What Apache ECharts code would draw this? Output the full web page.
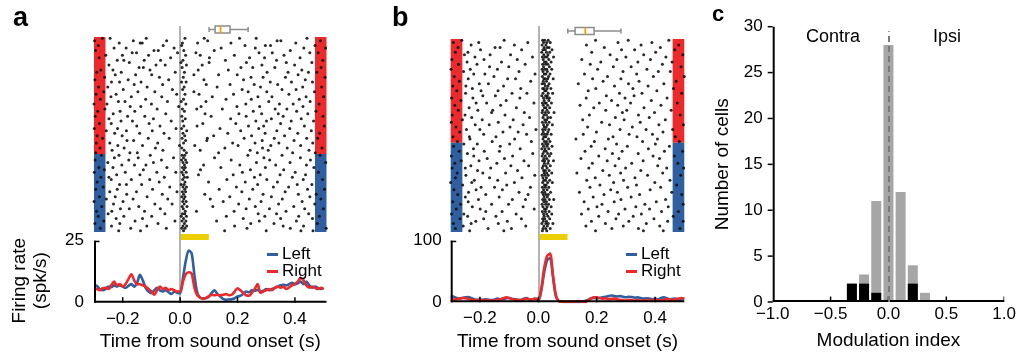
<!DOCTYPE html>
<html><head><meta charset="utf-8">
<script src="https://cdn.jsdelivr.net/npm/echarts@6/dist/echarts.min.js"></script>
<style>html,body{margin:0;padding:0;background:#fff}#chart{width:1019px;height:355px}</style>
</head><body><div id="chart"></div>
<script>
// ---------------- DATA ----------------
const timesMs = [-300,-290,-280,-270,-260,-250,-240,-230,-220,-210,-200,-190,-180,-170,-160,-150,-140,-130,-120,-110,-100,-90,-80,-70,-60,-50,-40,-30,-20,-10,0,10,20,30,40,50,60,70,80,90,100,110,120,130,140,150,160,170,180,190,200,210,220,230,240,250,260,270,280,290,300,310,320,330,340,350,360,370,380,390,400,410,420,430,440,450,460,470,480,490,500];

const psthA_left = [7,6.8,5.5,5,5.5,6.5,6.2,7,6.5,7, 6.5,6,6.8,7.5,6.5,8,11.2,9,6,4.5, 3.8,5,6,5,4.5,5,4.2,3.5,4.5,4, 3.8,10,17,21,20,11,4,2,1.8,1.8, 2.5,4,5,3.5,2.5,1.5,1.2,1.3,1.4,1.8, 2.5,2.8,3.5,4.5,4.2,5,4.8,5.2,4.5,4.8, 5.5,5,5.5,6,6.5,7,7.2,7,7.5,8, 7.5,7.8,8.5,7.5,8.5,7,6,6.5,6,5.5, 6];
const psthA_right = [5.7,5.5,5,5.8,6,5.5,7,8.5,7,7.5, 6.5,7.5,9.5,11.5,9,7.5,7.4,7,6.5,5.5, 4.5,3.2,5,6.5,5.5,6,5,5.5,5,4.5, 4.5,8.5,11.5,12.3,11.8,6,3,2,1.5,2, 2.5,3.2,3,3.2,3,3.2,3.5,3,3.2,4.5, 5.8,5,4,3,2.8,4,5.5,7.5,4,4.5, 5,5.5,5,6,6.5,6,6.5,5.5,6.2,7, 7.5,8.5,10,9,7,6,6.5,6,5.5,6, 5.5];
const psthB_left = [10,9,7,6,7,8,8.5,7,5,4, 4.5,4,5,4,3.5,4.5,6,5,4.5,6.5, 7,5.5,5,4,3.5,6,7,4.5,5,6, 3,18,48,68,72,42,10,2,1,0.5, 0.5,0.5,0.5,0.5,0.5,1,2,4,6,7, 6.5,7,8,9,10,11,10,9.5,10,9, 8,9,8.5,7.5,8,7,6,6.5,6,5, 5.5,5,7,8,6.5,5,5.5,6,4,5, 6];
const psthB_right = [5,4.5,5,6,7,6.5,5.5,4,3.5,3.5, 4,3.5,3,3.5,2.5,3,4,5,6.5,8, 7,5,4,3.5,3.5,4.5,6,4.5,5,5.5, 3.5,22,55,75,79,45,12,2,1,1, 1,1,1,1.5,2,1,0.5,3,6,8, 8,7,6,6.5,5,5.5,6,5,4,3.5, 3,4,3.5,3,3.5,3,3,3.5,3,3.5, 4,3.5,3,4,5,4.5,4,4.5,6,7, 6];

// spike times (ms) per trial; first trials = Right (red), rest = Left (blue)
const rasterA = [
[-271,-244,-118,17,84,207,265,442],[-298,-163,-47,96,338,351,489],[-212,-139,-132,8,61,177,403],[-285,-59,5,226,297,315,470],
[-230,-188,-21,143,262,431,507],[-295,-91,-76,13,119,384],[-167,-152,-9,55,275,321,452,481],[-259,-201,-110,19,70,189,362],
[-282,-33,102,242,294,418],[-219,-196,-125,-68,10,158,336,497],[-301,-177,3,101,231,370,459],[-248,-84,-52,22,77,285,399],
[-143,-128,7,212,253,330,491],[-276,-234,-105,63,168,424],[-290,-205,-17,15,303,376,447,476],[-226,-155,-99,48,134,199,411],
[-263,-72,11,247,289,367,505],[-297,-181,-40,83,221,436],[-239,-211,-136,5,21,314,388,461],[-160,-61,91,174,258,340],
[-284,-252,-115,14,129,280,427,493],[-198,-27,9,216,355,404],[-266,-147,-88,48,237,302,468],[-293,-223,-12,17,66,186,379],
[-241,-170,-64,112,271,320,439,500],[-278,-120,12,160,248,415],[-215,-192,-44,4,90,309,453],[-300,-255,-100,20,229,346,394,484],
[-174,-137,-5,73,198,277,428],[-262,-80,8,58,147,331,372],[-287,-209,-158,15,255,406,473],[-233,-50,87,205,284,342,445],
[-296,-183,-123,6,108,230,359,498],[-248,-93,18,176,318,422],[-206,-166,-31,9,264,301,387,465],[-281,-240,-108,79,194,350],
[-151,-70,13,59,238,291,433,502],[-299,-218,-14,5,139,274,382],[-257,-187,-97,23,211,337,457],[-228,-141,-56,10,166,296,410,486],
[-289,-202,16,117,249,364],[-270,-111,-38,7,95,223,328,441,479],[-185,-162,19,93,286,397],[-292,-245,-78,12,183,261,344,462],
[-217,-131,-2,51,202,316,420],[-279,-195,-86,6,156,287,373,494],[-237,-60,14,70,244,307,449],[-294,-175,-149,22,134,269,392,471],
[-274,-213,-104,7,16,236,355,488],[-229,-146,-23,12,120,292,419],[-296,-179,-65,5,19,178,312,454],[-252,-93,10,23,266,383,507],
[-203,-159,-119,15,82,208,333,440],[-283,-234,-46,8,18,142,297,466],[-264,-128,13,71,245,361],[-299,-191,-81,-15,6,21,217,401,482],
[-221,-140,11,64,185,279,348,437],[-276,-248,-55,15,25,259,391],[-240,-170,-106,9,163,302,429,496],[-289,-73,17,99,227,339],
[-211,-187,-134,4,14,270,408,459],[-268,-36,10,22,196,325,378],[-294,-219,-96,16,136,253,444,503],[-245,-152,-11,8,19,215,366],
[-186,-62,12,86,289,412,474],[-281,-226,-115,6,17,173,318,452],[-257,-164,-43,13,105,241,356,490],[-300,-199,9,21,150,282,425],
[-232,-88,-28,14,204,343,469],[-273,-144,7,24,114,262,396],[-208,-177,-69,11,230,311,434,499],[-291,-238,-124,18,57,188,369],
[-251,-53,8,16,272,336,448],[-285,-196,-99,4,22,161,295,413,485],[-223,-131,12,220,350,461],[-266,-157,-18,7,20,127,276,405],
[-297,-210,-77,15,246,327,478],[-239,-116,10,23,190,359,430],[-278,-172,-48,6,17,233,384,509],[-214,-138,12,155,300,421,463]
];
const rasterA_nRight = 48;

const rasterB = [
[-262,-117,15,22,34,196,308,447],[-291,-204,-36,18,29,41,273,389],[-230,-82,13,26,165,352,481],[-275,-148,-131,20,31,37,226,418],
[-198,-57,16,24,47,285,330,467],[-284,-241,12,28,39,183,402],[-253,-165,-95,19,33,246,361,495],[-217,-20,14,23,30,52,300,437],
[-296,-186,-72,17,36,149,269,384],[-244,-126,21,27,44,214,341,458],[-273,-210,-45,15,25,33,178,425],[-167,-101,18,38,257,318,489],
[-299,-233,-140,13,22,29,46,203,372],[-256,-66,16,31,290,411,452],[-221,-183,-11,20,26,40,158,337],[-288,-152,14,35,237,394,500],
[-240,-105,-78,19,24,32,51,186,283],[-270,-26,17,28,222,345,472],[-202,-171,13,21,37,137,309,430],[-293,-248,-119,24,33,261,376],
[-226,-60,15,19,30,43,197,324,463],[-279,-196,-138,22,27,171,406],[-249,-90,-39,16,34,49,278,355,491],[-190,-147,12,25,31,233,328],
[-297,-224,-63,18,29,38,164,297,441],[-265,-110,20,36,251,387],[-213,-177,-15,14,23,27,45,209,316,476],[-286,-129,17,32,143,272,420],
[-237,-75,21,26,39,190,362],[-274,-207,-156,15,30,231,303,455],[-160,-48,13,24,35,54,288,398],[-295,-251,-114,19,28,175,343,486],
[-228,-30,16,33,42,264,380],[-260,-192,-86,22,29,152,294,435],[-298,-137,14,25,37,217,349],[-216,-168,-52,18,31,48,244,413,497],
[-282,-97,20,27,169,322],[-246,-200,-8,15,24,36,280,369,460],[-269,-121,-69,17,33,199,427],[-187,-40,13,22,30,44,154,311,391],
[-292,-236,-145,19,26,256,338,469],[-234,-81,16,35,129,240,408],[-277,-158,-24,21,28,40,192,357,483],
[-255,-209,-98,14,25,33,268,401],[-290,-130,18,30,47,181,305,449],[-222,-62,12,23,36,229,377],[-271,-185,-133,20,27,160,287,432,494],
[-243,-19,16,32,43,254,342],[-298,-221,-88,13,24,38,207,393,466],[-175,-116,19,29,146,276,415],[-264,-203,-49,15,22,35,52,236,359],
[-286,-142,21,33,185,320,478],[-231,-94,-33,17,26,41,263,409],[-295,-250,-163,14,30,173,299,440,498],[-208,-71,18,24,37,221,351],
[-278,-190,-112,20,29,46,132,282,426],[-248,-12,13,23,34,243,374,488],[-284,-167,-56,16,28,195,331],[-219,-139,19,25,39,166,292,451],
[-300,-228,-82,15,32,48,258,399],[-259,-108,21,27,211,336,474],[-196,-150,-27,14,24,36,177,306,419],[-289,-213,-123,18,30,248,383],
[-239,-66,13,22,42,141,271,457],[-276,-180,-35,17,26,34,225,347,491],[-250,-134,20,31,188,318],[-205,-89,-44,15,23,38,53,283,436],
[-293,-240,19,28,157,260,404],[-266,-160,-102,13,25,35,218,365,496],[-226,-52,16,30,44,201,334,445],[-281,-199,-14,21,27,171,297,381],
[-180,-124,14,24,37,239,422,480],[-297,-255,-76,18,29,46,148,275,353],[-242,-145,20,33,207,325,462],[-268,-187,-58,15,22,39,266,396],
[-214,-106,17,28,182,310,443,496],[-291,-230,-137,12,26,34,50,230,370],[-257,-43,19,31,163,291,416],[-284,-172,-92,16,25,41,252,343,485],
[-235,-118,14,29,196,360,428]
];
const rasterB_nRight = 43;

// first-spike-latency box plots (s): [whiskerLow, Q1, median, Q3, whiskerHigh]
const boxA = [0.101, 0.122, 0.141, 0.174, 0.237];
const boxB = [0.101, 0.126, 0.161, 0.191, 0.283];

// Panel c histogram
const modBins = [-0.3158, -0.2105, -0.1053, 0, 0.1053, 0.2105, 0.3158];
const allCells = [2, 3, 11, 28, 12, 4, 1];
const sigCells = [2, 2, 1, 0, 0, 2, 0];

// tick values
const psthTicks = [-0.2, 0, 0.2, 0.4];
const psthA_yTicks = [0, 25];
const psthB_yTicks = [0, 100];
const modTicks = [-1, -0.5, 0, 0.5, 1];
const cellTicks = [0, 5, 10, 15, 20, 25, 30];

// ---------------- STYLE / LAYOUT ----------------
const FONT = 'Liberation Sans, Arial, Helvetica, sans-serif';
const RED = '#ec2a2b', BLUE = '#2f5fa0', YELLOW = '#ebcf00', VLINE = '#b3b3b3';
const TICK_FS = 17, NAME_FS = 19;

const G = {
  rA: {left: 94, width: 232.5}, pA: {left: 94, top: 240.7, width: 232.5, height: 62},
  rB: {left: 450.7, width: 233.6}, pB: {left: 450.7, top: 240.7, width: 233.6, height: 61.6},
  c: {left: 772.7, top: 26.7, width: 233, height: 276}
};

function rasterLayout(top, dotTop, dotBot, bottom, n, boxCenter, yellowTop, yellowBot){
  const px = (dotBot - dotTop) / n;
  return {
    top, height: bottom - top,
    yMin: -(dotTop - top) / px,
    yMax: n + (bottom - dotBot) / px,
    boxY: -(dotTop - top) / px + (boxCenter - top) / px,
    yel0: n + (yellowTop - dotBot) / px,
    yel1: n + (yellowBot - dotBot) / px
  };
}
const LA = rasterLayout(26, 37, 232, 241, rasterA.length, 29.5, 234, 240);
const LB = rasterLayout(26, 39, 232, 241, rasterB.length, 31, 234, 240);

function pts(trials){
  const out = [];
  trials.forEach((tr, i) => tr.forEach(ms => out.push([ms / 1000, i + 0.5])));
  return out;
}
function curve(vals){ return vals.map((v, i) => [timesMs[i] / 1000, v]); }
const fmt = v => (v < 0 ? '\u2212' : '') + Math.abs(v).toFixed(1);

function boxRender(params, api){
  const yU = api.value(0);
  const p = v => api.coord([v, yU]);
  const a = p(api.value(1)), b = p(api.value(2)), c = p(api.value(3)), d = p(api.value(4)), e = p(api.value(5));
  const y = a[1], h = 3.5;
  const st = {stroke: '#8c8c8c', lineWidth: 1.5, fill: null};
  return {type: 'group', children: [
    {type: 'line', shape: {x1: a[0], y1: y, x2: b[0], y2: y}, style: st},
    {type: 'line', shape: {x1: d[0], y1: y, x2: e[0], y2: y}, style: st},
    {type: 'line', shape: {x1: a[0], y1: y - 2.5, x2: a[0], y2: y + 2.5}, style: st},
    {type: 'line', shape: {x1: e[0], y1: y - 2.5, x2: e[0], y2: y + 2.5}, style: st},
    {type: 'rect', shape: {x: b[0], y: y - h, width: d[0] - b[0], height: 2 * h}, style: {stroke: '#8c8c8c', lineWidth: 1.5, fill: '#fff'}},
    {type: 'line', shape: {x1: c[0], y1: y - h, x2: c[0], y2: y + h}, style: {stroke: '#f5a000', lineWidth: 1.8}}
  ]};
}

// outward y ticks for panel c (custom series through the axis scale)
function outTickRender(yticks){
  return function(params, api){
    const x0 = api.value(0);
    const ch = yticks.map(v => { const p = api.coord([x0, v]);
      return {type: 'line', shape: {x1: p[0] - 5, y1: p[1], x2: p[0], y2: p[1]}, style: {stroke: '#000', lineWidth: 1.5}}; });
    return {type: 'group', children: ch};
  };
}

// axis frame + inward ticks as black mark areas, positioned in data units of the grid's scales
function axisAreas(xr, yr, xticks, yticks, gw, gh, yInside){
  const ux = (xr[1] - xr[0]) / gw, uy = (yr[1] - yr[0]) / gh;
  const blk = {color: '#000', opacity: 1, borderWidth: 0};
  const d = [
    [{coord: [xr[0], yr[0]], itemStyle: blk}, {coord: [xr[1], yr[0] + 2 * uy]}],
    [{coord: [xr[0], yr[0]], itemStyle: blk}, {coord: [xr[0] + 2 * ux, yr[1]]}]
  ];
  xticks.forEach(t => {
    if (t <= xr[0]) return;
    const a = Math.max(xr[0], t - 0.75 * ux), b = Math.min(xr[1], t + 0.75 * ux);
    d.push([{coord: [a, yr[0]], itemStyle: blk}, {coord: [b, yr[0] + 5.5 * uy]}]);
  });
  if (yInside) yticks.forEach(v => {
    if (v <= yr[0]) return;
    d.push([{coord: [xr[0], v - 1.5 * uy], itemStyle: blk}, {coord: [xr[0] + 5.5 * ux, v]}]);
  });
  return {silent: true, z: 5, label: {show: false}, data: d};
}

function rasterSeries(trials, nRight, L, xi, xmin, xmax){
  const n = trials.length;
  return {
    type: 'scatter', xAxisIndex: xi, yAxisIndex: xi, data: pts(trials), silent: true,
    symbol: 'circle', symbolSize: 3, itemStyle: {color: '#111', opacity: 0.9}, z: 3,
    markArea: {silent: true, z: 1, data: [
      [{coord: [xmin, 0], itemStyle: {color: RED, opacity: 1}}, {coord: [xmin + 0.04, nRight]}],
      [{coord: [xmin, nRight], itemStyle: {color: BLUE, opacity: 1}}, {coord: [xmin + 0.04, n]}],
      [{coord: [xmax - 0.04, 0], itemStyle: {color: RED, opacity: 1}}, {coord: [xmax, nRight]}],
      [{coord: [xmax - 0.04, nRight], itemStyle: {color: BLUE, opacity: 1}}, {coord: [xmax, n]}],
      [{coord: [0, L.yel0], itemStyle: {color: YELLOW, opacity: 1}}, {coord: [0.1, L.yel1]}]
    ]},
    markLine: {silent: true, z: 2, symbol: ['none', 'none'], label: {show: false},
      lineStyle: {color: VLINE, width: 2, type: 'solid'},
      data: [[{coord: [0, L.yMin]}, {coord: [0, L.yMax]}]]}
  };
}
function psthSeries(name, vals, color, xi, withLine){
  const s = {type: 'line', name, xAxisIndex: xi, yAxisIndex: xi, data: curve(vals), smooth: 0.3,
    showSymbol: false, lineStyle: {color, width: 2.6}, itemStyle: {color}, silent: true, z: 3};
  if (withLine) s.markLine = {silent: true, z: 1, symbol: ['none', 'none'], label: {show: false},
    lineStyle: {color: VLINE, width: 2, type: 'solid'}, data: [[{coord: [0, 0]}, {coord: [0, withLine]}]]};
  return s;
}

const noLine = {show: false};
const axLbl = (extra) => Object.assign({show: true, color: '#000', fontSize: TICK_FS, fontFamily: FONT}, extra);
const nameStyle = (extra) => Object.assign({fontSize: NAME_FS, color: '#000', fontFamily: FONT}, extra);

const sRightA = psthSeries('Right', psthA_right, RED, 1, 0);
sRightA.markArea = axisAreas([-0.3, 0.51], [0, 25], psthTicks, psthA_yTicks, G.pA.width, G.pA.height, true);
const sRightB = psthSeries('Right', psthB_right, RED, 3, 0);
sRightB.markArea = axisAreas([-0.3, 0.5], [0, 100], psthTicks, psthB_yTicks, G.pB.width, G.pB.height, true);

const option = {
  animation: false,
  textStyle: {fontFamily: FONT},
  grid: [
    {left: G.rA.left, top: LA.top, width: G.rA.width, height: LA.height},
    {left: G.pA.left, top: G.pA.top, width: G.pA.width, height: G.pA.height},
    {left: G.rB.left, top: LB.top, width: G.rB.width, height: LB.height},
    {left: G.pB.left, top: G.pB.top, width: G.pB.width, height: G.pB.height},
    {left: G.c.left, top: G.c.top, width: G.c.width, height: G.c.height}
  ],
  xAxis: [
    {gridIndex: 0, type: 'value', min: -0.3, max: 0.51, show: false},
    {gridIndex: 1, type: 'value', min: -0.3, max: 0.51, axisLine: noLine, axisTick: noLine, splitLine: noLine,
      axisLabel: axLbl({margin: 8, customValues: psthTicks, formatter: fmt}),
      name: 'Time from sound onset (s)', nameLocation: 'middle', nameGap: 30, nameTextStyle: nameStyle()},
    {gridIndex: 2, type: 'value', min: -0.3, max: 0.5, show: false},
    {gridIndex: 3, type: 'value', min: -0.3, max: 0.5, axisLine: noLine, axisTick: noLine, splitLine: noLine,
      axisLabel: axLbl({margin: 8, customValues: psthTicks, formatter: fmt}),
      name: 'Time from sound onset (s)', nameLocation: 'middle', nameGap: 30, nameTextStyle: nameStyle()},
    {gridIndex: 4, type: 'value', min: -1, max: 1, interval: 0.5, axisLine: noLine, axisTick: noLine, splitLine: noLine,
      axisLabel: axLbl({margin: 4, formatter: fmt}),
      name: 'Modulation index', nameLocation: 'middle', nameGap: 29, nameTextStyle: nameStyle()}
  ],
  yAxis: [
    {gridIndex: 0, type: 'value', inverse: true, min: LA.yMin, max: LA.yMax, show: false},
    {gridIndex: 1, type: 'value', min: 0, max: 25, interval: 25, axisLine: noLine, axisTick: noLine, splitLine: noLine,
      axisLabel: axLbl({margin: 10}),
      name: 'Firing rate\n(spk/s)', nameLocation: 'middle', nameRotate: 90, nameGap: 43,
      nameTextStyle: nameStyle({lineHeight: 21, padding: [0, 18, 0, 0]})},
    {gridIndex: 2, type: 'value', inverse: true, min: LB.yMin, max: LB.yMax, show: false},
    {gridIndex: 3, type: 'value', min: 0, max: 100, interval: 100, axisLine: noLine, axisTick: noLine, splitLine: noLine,
      axisLabel: axLbl({margin: 9})},
    {gridIndex: 4, type: 'value', min: 0, max: 30, interval: 5, axisLine: noLine, axisTick: noLine, splitLine: noLine,
      axisLabel: axLbl({margin: 10}),
      name: 'Number of cells', nameLocation: 'middle', nameRotate: 90, nameGap: 40, nameTextStyle: nameStyle()}
  ],
  legend: [
    {data: ['Left', 'Right'], orient: 'vertical', left: 267, top: 246, icon: 'rect', itemWidth: 11, itemHeight: 3,
      itemGap: 0, padding: 0, selectedMode: false, textStyle: {fontSize: 17, color: '#000', lineHeight: 14, padding: [0, 0, 0, -1]}},
    {data: ['Left', 'Right'], orient: 'vertical', left: 626, top: 246, icon: 'rect', itemWidth: 11, itemHeight: 3,
      itemGap: 0, padding: 0, selectedMode: false, textStyle: {fontSize: 17, color: '#000', lineHeight: 14, padding: [0, 0, 0, -1]}}
  ],
  series: [
    rasterSeries(rasterA, rasterA_nRight, LA, 0, -0.3, 0.51),
    {type: 'custom', xAxisIndex: 0, yAxisIndex: 0, data: [[LA.boxY].concat(boxA)], renderItem: boxRender, silent: true, z: 4},
    psthSeries('Left', psthA_left, BLUE, 1, 25),
    sRightA,
    rasterSeries(rasterB, rasterB_nRight, LB, 2, -0.3, 0.5),
    {type: 'custom', xAxisIndex: 2, yAxisIndex: 2, data: [[LB.boxY].concat(boxB)], renderItem: boxRender, silent: true, z: 4},
    psthSeries('Left', psthB_left, BLUE, 3, 100),
    sRightB,
    {type: 'bar', xAxisIndex: 4, yAxisIndex: 4, data: modBins.map((b, i) => [b, allCells[i]]), barWidth: 10, barGap: '-100%',
      itemStyle: {color: '#a6a6a6'}, silent: true,
      markArea: axisAreas([-1, 1], [0, 30], modTicks, cellTicks, G.c.width, G.c.height, false)},
    {type: 'bar', xAxisIndex: 4, yAxisIndex: 4, data: modBins.map((b, i) => [b, sigCells[i]]), barWidth: 10, barGap: '-100%',
      itemStyle: {color: '#000'}, silent: true,
      markLine: {silent: true, symbol: ['none', 'none'], label: {show: false},
        lineStyle: {color: '#7a7a7a', width: 2, type: [6, 4]},
        data: [[{coord: [0, 0]}, {coord: [0, 29.5]}]]}},
    {type: 'custom', xAxisIndex: 4, yAxisIndex: 4, data: [[-1, 15]], renderItem: outTickRender(cellTicks), silent: true, z: 5}
  ],
  graphic: [
    {type: 'text', x: 13, y: 19, style: {text: 'a', font: 'bold 27px ' + FONT, fill: '#000', textVerticalAlign: 'middle'}},
    {type: 'text', x: 392, y: 19, style: {text: 'b', font: 'bold 27px ' + FONT, fill: '#000', textVerticalAlign: 'middle'}},
    {type: 'text', x: 712, y: 15, style: {text: 'c', font: 'bold 22px ' + FONT, fill: '#000', textVerticalAlign: 'middle'}},
    {type: 'text', x: 833, y: 37, style: {text: 'Contra', font: '18px ' + FONT, fill: '#000', textAlign: 'center', textVerticalAlign: 'middle'}},
    {type: 'text', x: 947, y: 37, style: {text: 'Ipsi', font: '18px ' + FONT, fill: '#000', textAlign: 'center', textVerticalAlign: 'middle'}}
  ]
};
const chart = echarts.init(document.getElementById('chart'), null, {renderer: 'canvas'});
chart.setOption(option);
</script></body></html>
